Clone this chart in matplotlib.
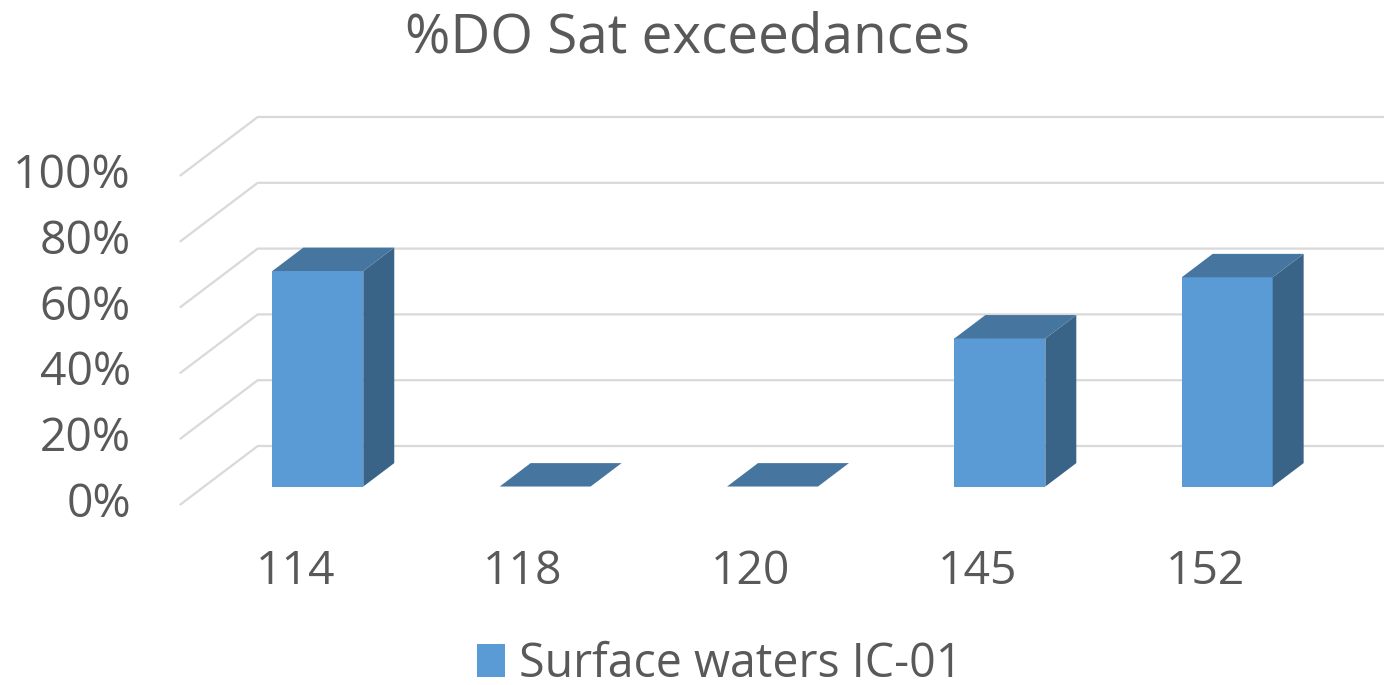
import matplotlib
matplotlib.use("Agg")
import matplotlib.pyplot as plt
from matplotlib.patches import Polygon, Patch

plt.rcParams['font.family'] = ['Open Sans', 'DejaVu Sans']

# data
sites = ['114', '118', '120', '145', '152']
exceed_pct = [65.5, 0.0, 0.0, 45.0, 63.6]
y_ticks = [0, 20, 40, 60, 80, 100]
title = '%DO Sat exceedances'
series_name = 'Surface waters IC-01'

front_col = '#5B9BD5'
top_col = '#46759F'
side_col = '#3A6388'
text_col = '#595959'
grid_col = '#D9D9D9'

W, H = 1384, 685
fig = plt.figure(figsize=(W / 100, H / 100), dpi=100)
ax = fig.add_axes([0, 0, 1, 1])
ax.axis('off')

# pixel layout of the oblique projection
px_cat = 227.35      # pixels per category
px_pct = 3.29        # pixels per percent
x0_px = 293.4        # front-plane centre of first category
y0_px = 505.0        # front-plane zero level (from top)
ax.set_xlim((0 - x0_px) / px_cat, (W - x0_px) / px_cat)
ax.set_ylim((y0_px - H) / px_pct, y0_px / px_pct)

# depth vector (front -> back wall) in data units
Dx, Dy = 78 / px_cat, 59 / px_pct
d0, d1 = 0.313, 0.71   # bar front / back depth fractions
half_w = 0.2

# gridlines: side wall diagonal + back wall horizontal
x_left = -0.5
x_right = len(sites) - 0.5 + Dx + 0.5
for v in y_ticks:
    ax.plot([x_left, x_left + Dx, x_right], [v, v + Dy, v + Dy],
            color=grid_col, lw=1.6, zorder=1, solid_capstyle='butt')
    ax.text(x_left - 0.215, v, f'{v}%', ha='right', va='center',
            fontsize=33.3, color=text_col)

for i, (lab, v) in enumerate(zip(sites, exceed_pct)):
    fx0 = i - half_w + d0 * Dx
    fx1 = i + half_w + d0 * Dx
    fy0 = d0 * Dy
    bdx = (d1 - d0) * Dx
    bdy = (d1 - d0) * Dy
    top = [(fx0, fy0 + v), (fx1, fy0 + v), (fx1 + bdx, fy0 + v + bdy), (fx0 + bdx, fy0 + v + bdy)]
    if v > 0:
        front = [(fx0, fy0), (fx1, fy0), (fx1, fy0 + v), (fx0, fy0 + v)]
        side = [(fx1, fy0), (fx1 + bdx, fy0 + bdy), (fx1 + bdx, fy0 + v + bdy), (fx1, fy0 + v)]
        ax.add_patch(Polygon(front, closed=True, fc=front_col, ec='none', zorder=3))
        ax.add_patch(Polygon(side, closed=True, fc=side_col, ec='none', zorder=3))
    ax.add_patch(Polygon(top, closed=True, fc=top_col, ec='none', zorder=3))
    ax.text(i + 0.01, -20.4, lab, ha='center', va='center', fontsize=33.3, color=text_col)

fig.text(0.497, 1 - 38 / H, title, ha='center', va='center', fontsize=39.5, color=text_col)

fig.legend(handles=[Patch(fc=front_col, ec='none', label=series_name)],
           loc='center', bbox_to_anchor=(0.52, 1 - 664 / H), frameon=False,
           fontsize=33.5, handlelength=0.62, handleheight=0.7, handletextpad=0.3,
           labelcolor=text_col)

fig.savefig('out.png', dpi=100)
